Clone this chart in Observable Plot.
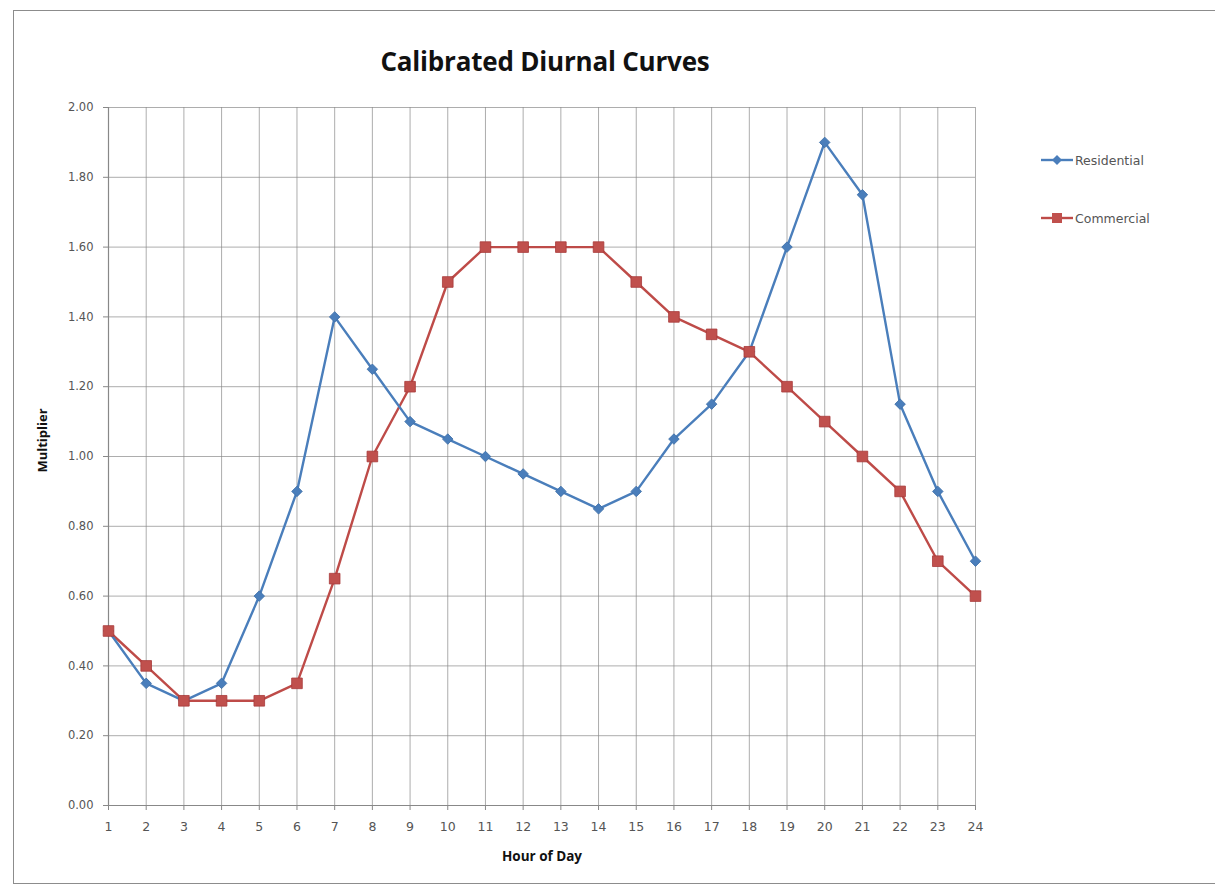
<!DOCTYPE html>
<html>
<head>
<meta charset="utf-8">
<script src="https://cdn.jsdelivr.net/npm/d3@7"></script>
<script src="https://cdn.jsdelivr.net/npm/@observablehq/plot@0.6"></script>
<style>
  html, body { margin: 0; padding: 0; background: #fff; }
  #wrap { position: relative; width: 1215px; height: 888px; overflow: hidden; font-family: "Open Sans", "Liberation Sans", sans-serif; }
  #frame { position: absolute; left: 13px; top: 10px; width: 1215px; height: 874px; border: 1.5px solid #8c8c8c; box-sizing: border-box; }
  #title { position: absolute; left: 0; width: 1090px; top: 43px; text-align: center; font-size: 26px; font-weight: 700; color: #111; letter-spacing: -0.2px; }
  #legend { position: absolute; left: 1040px; top: 150px; font-family: "DejaVu Sans", sans-serif; font-size: 12.5px; color: #555; }
  .li { display: flex; align-items: center; height: 20px; margin-bottom: 38px; }
  .li svg { margin-right: 1px; }
  #chart { position: absolute; left: 0; top: 0; }
</style>
</head>
<body>
<div id="wrap">
  <div id="frame"></div>
  <div id="chart"></div>
  <div id="title">Calibrated Diurnal Curves</div>
  <div id="legend"></div>
</div>
<script>
const hours = [1,2,3,4,5,6,7,8,9,10,11,12,13,14,15,16,17,18,19,20,21,22,23,24];
const residential = [0.50,0.35,0.30,0.35,0.60,0.90,1.40,1.25,1.10,1.05,1.00,0.95,0.90,0.85,0.90,1.05,1.15,1.30,1.60,1.90,1.75,1.15,0.90,0.70];
const commercial  = [0.50,0.40,0.30,0.30,0.30,0.35,0.65,1.00,1.20,1.50,1.60,1.60,1.60,1.60,1.50,1.40,1.35,1.30,1.20,1.10,1.00,0.90,0.70,0.60];
const yTicks = [0,0.2,0.4,0.6,0.8,1.0,1.2,1.4,1.6,1.8,2.0];
const seriesNames = ["Residential", "Commercial"];

const resBlue = "#4A7EBB";
const comRed = "#BE4B48";

const resData = hours.map((h, i) => ({hour: h, value: residential[i]}));
const comData = hours.map((h, i) => ({hour: h, value: commercial[i]}));

const chart = Plot.plot({
  width: 1215,
  height: 888,
  marginLeft: 108,
  marginRight: 240,
  marginTop: 107,
  marginBottom: 83,
  x: {type: "linear", domain: [1, 24], label: null},
  y: {type: "linear", domain: [0, 2], label: null},
  style: {fontFamily: "'DejaVu Sans', sans-serif", fontSize: "12px", color: "#555", background: "transparent"},
  marks: [
    Plot.gridX(hours, {stroke: "#8a8a8a", strokeOpacity: 0.7, strokeWidth: 1}),
    Plot.gridY(yTicks, {stroke: "#8a8a8a", strokeOpacity: 0.7, strokeWidth: 1}),
    Plot.ruleY([0], {stroke: "#888", strokeWidth: 1.2}),
    Plot.ruleX([1], {stroke: "#888", strokeWidth: 1.2}),
    Plot.axisX(hours, {tickSize: 5, tickPadding: 12, fontSize: 12.5, fill: "#555", stroke: "#888", tickFormat: d => String(d)}),
    Plot.axisY(yTicks, {tickSize: 5, tickPadding: 10, fontSize: 11.5, fill: "#555", stroke: "#888", tickFormat: d => d.toFixed(2)}),
    Plot.line(comData, {x: "hour", y: "value", stroke: comRed, strokeWidth: 2.4}),
    Plot.line(resData, {x: "hour", y: "value", stroke: resBlue, strokeWidth: 2.4}),
    Plot.dot(resData, {x: "hour", y: "value", symbol: "square", r: 4.2, rotate: 45, fill: resBlue, stroke: "#3d6fa8", strokeWidth: 0.8}),
    Plot.dot(comData, {x: "hour", y: "value", symbol: "square", r: 6, fill: "#C0504D", stroke: "#a83a3a", strokeWidth: 0.8}),
    Plot.text(["Hour of Day"], {frameAnchor: "bottom", dy: 55, fontFamily: "'Open Sans', sans-serif", fontWeight: 700, fontSize: 13.5, fill: "#111"}),
    Plot.text(["Multiplier"], {frameAnchor: "left", textAnchor: "middle", dx: -66, dy: -16, rotate: -90, fontFamily: "'Open Sans', sans-serif", fontWeight: 700, fontSize: 13, fill: "#111"})
  ]
});
document.getElementById("chart").appendChild(chart);

// legend
const legend = document.getElementById("legend");
const colors = [resBlue, comRed];
seriesNames.forEach((name, i) => {
  const row = document.createElement("div");
  row.className = "li";
  const sw = d3.create("svg").attr("width", 34).attr("height", 14);
  sw.append("line").attr("x1", 1).attr("x2", 33).attr("y1", 7).attr("y2", 7).attr("stroke", colors[i]).attr("stroke-width", 2.4);
  if (i === 0) {
    sw.append("path").attr("d", "M17,2 L22,7 L17,12 L12,7 Z").attr("fill", resBlue);
  } else {
    sw.append("rect").attr("x", 12).attr("y", 2).attr("width", 10).attr("height", 10).attr("fill", "#C0504D");
  }
  row.appendChild(sw.node());
  const t = document.createElement("span");
  t.textContent = name;
  row.appendChild(t);
  legend.appendChild(row);
});
</script>
</body>
</html>
